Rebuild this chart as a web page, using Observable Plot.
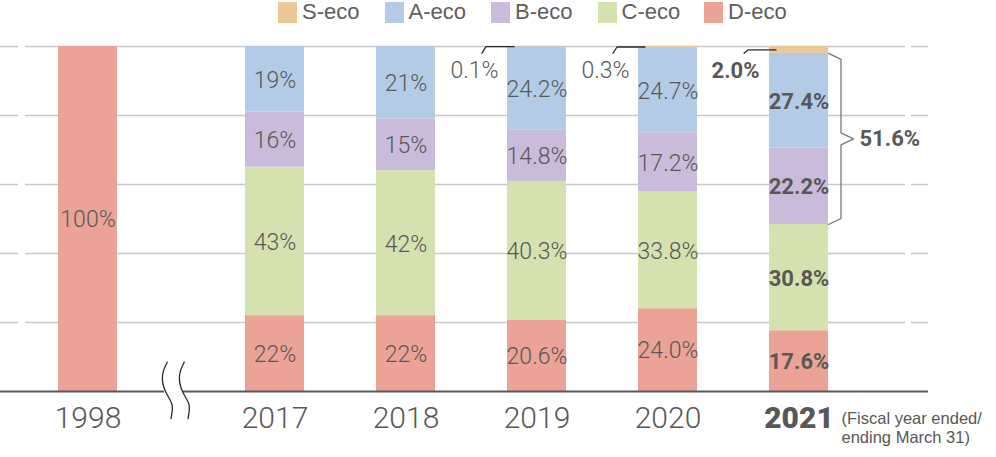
<!DOCTYPE html>
<html>
<head>
<meta charset="utf-8">
<script src="https://cdn.jsdelivr.net/npm/d3@7"></script>
<script src="https://cdn.jsdelivr.net/npm/@observablehq/plot@0.6"></script>
<style>
  body { margin: 0; background: #fff; }
  #chart { width: 996px; height: 457px; position: relative; color: #595757; }
  .legend { height: 26px; position: relative; }
  .legend .item { position: absolute; top: 1px; height: 22px; display: flex; align-items: center;
    font-family: "Liberation Sans Narrow", "Liberation Sans", sans-serif; font-size: 22px; color: #5f5d5d; }
  .legend .sw { width: 19px; height: 21px; margin-right: 5px; }
  svg { display: block; }
</style>
</head>
<body>
<div id="chart"><div class="legend" id="legend"></div></div>
<script>
// Eco-product ranking shares by fiscal year (%)
const years = ["1998", "2017", "2018", "2019", "2020", "2021"];
const categories = ["S-eco", "A-eco", "B-eco", "C-eco", "D-eco"];
const colors = ["#ecc797", "#b4cbe7", "#c9bbd9", "#d5e1ae", "#eaa396"];
const sEco = [null, null, null, 0.1, 0.3, 2.0];
const aEco = [null, 19, 21, 24.2, 24.7, 27.4];
const bEco = [null, 16, 15, 14.8, 17.2, 22.2];
const cEco = [null, 43, 42, 40.3, 33.8, 30.8];
const dEco = [100, 22, 22, 20.6, 24.0, 17.6];
const decimals = [0, 0, 0, 1, 1, 1];
const highlightYear = "2021";
const yearNote = "(Fiscal year ended/\nending March 31)";

// Layout: bars one slot apart, with a wider gap for the axis break after 1998
const SLOT = 131;                 // px per slot
const BREAK_GAP = 187 / SLOT;     // distance 1998 -> 2017, in slots
const HALF = 29.5 / SLOT;         // half bar width
const PLOT_W = 928;               // right end of the plotting frame
const PLOT_H = 345;               // px for 0..100 %
const PXY = 100 / PLOT_H;         // % per px
const pos = i => (i === 0 ? 0 : BREAK_GAP + (i - 1));

const series = {"S-eco": sEco, "A-eco": aEco, "B-eco": bEco, "C-eco": cEco, "D-eco": dEco};
const stackOrder = ["D-eco", "C-eco", "B-eco", "A-eco", "S-eco"];

const rows = [];
years.forEach((year, i) => {
  let cum = 0;
  for (const cat of stackOrder) {
    const v = series[cat][i];
    if (v == null || v <= 0) continue;
    rows.push({year, cat, v, pos: pos(i), y1: cum, y2: cum + v, dec: decimals[i]});
    cum += v;
  }
});
const fmt = d => d.v.toFixed(d.dec) + "%";
const isHi = d => d.year === highlightYear;

const inner = rows.filter(d => d.cat !== "S-eco");
const sRows = rows.filter(d => d.cat === "S-eco");

// leader lines from the small S-eco labels to the top of their bars
const leaders = sRows.flatMap(d => {
  const mid = (d.y1 + d.y2) / 2;
  return [
    {year: d.year, x: d.pos - 55 / SLOT, y: 100 - 6.7 * PXY},
    {year: d.year, x: d.pos - 51 / SLOT, y: mid},
    {year: d.year, x: d.pos - 23 / SLOT, y: mid}
  ];
});

// brace grouping S + A + B for the highlighted year
const hiIdx = years.indexOf(highlightYear);
const hiRows = rows.filter(isHi);
const cTop = hiRows.find(d => d.cat === "C-eco").y2;
const aTop = hiRows.find(d => d.cat === "A-eco").y2;
const groupShare = ["S-eco", "A-eco", "B-eco"].reduce((s, c) => s + series[c][hiIdx], 0);
const braceMid = (aTop + cTop) / 2;
const bx = pos(hiIdx);
const brace = [
  {x: bx + 29.5 / SLOT, y: aTop},
  {x: bx + 42 / SLOT, y: aTop - 6 * PXY},
  {x: bx + 42 / SLOT, y: braceMid + 6 * PXY},
  {x: bx + 54.5 / SLOT, y: braceMid},
  {x: bx + 42 / SLOT, y: braceMid - 6 * PXY},
  {x: bx + 42 / SLOT, y: cTop + 6 * PXY},
  {x: bx + 29.5 / SLOT, y: cTop}
];

// axis-break squiggles between 1998 and 2017
const breakX = (165 - 87.5) / SLOT;
const squiggle = [[1.7, -29.3], [-3, -16], [0, 0], [6.5, 13], [5.5, 27]];
const breakPts = [0, 17].flatMap(off => squiggle.map(([dx, dy]) => ({
  k: off, x: breakX + (dx + off) / SLOT, y: -dy * PXY
})));

const yearRows = years.map((year, i) => ({year, pos: pos(i)}));

const numFont = "Roboto, 'Liberation Sans', sans-serif";
const ink = "#595757";

const chart = Plot.plot({
  width: 996,
  height: 431,
  marginTop: 20,
  marginBottom: 66,
  marginLeft: 0,
  marginRight: 996 - PLOT_W,
  x: {type: "linear", domain: [-87.5 / SLOT, (PLOT_W - 87.5) / SLOT], axis: null},
  y: {domain: [0, 100], axis: null},
  color: {domain: categories, range: colors},
  style: {background: "#fff", color: ink, fontFamily: numFont, overflow: "visible"},
  marks: [
    Plot.ruleY([20, 40, 60, 80, 100], {stroke: "#c8c8c8", strokeWidth: 1.6, strokeDasharray: "18,7,880,6,17"}),
    Plot.rect(rows, {x1: d => d.pos - HALF, x2: d => d.pos + HALF, y1: "y1", y2: "y2", fill: "cat"}),
    Plot.ruleY([0], {stroke: "#5a5858", strokeWidth: 2, strokeDasharray: "164,19,745"}),
    Plot.line(breakPts, {x: "x", y: "y", z: "k", curve: "natural", stroke: "#2a2a2a", strokeWidth: 1.3}),
    // in-bar value labels
    Plot.text(inner.filter(d => !isHi(d)), {x: "pos", y: d => (d.y1 + d.y2) / 2, dy: 1, text: fmt,
      fill: ink, fontSize: 23, fontWeight: 300}),
    Plot.text(inner.filter(isHi), {x: "pos", y: d => (d.y1 + d.y2) / 2, dy: 1, text: fmt,
      fill: ink, fontSize: 22, fontWeight: "bold"}),
    // S-eco labels with leaders
    Plot.line(leaders, {x: "x", y: "y", z: "year", stroke: "#2a2a2a", strokeWidth: 1.3}),
    Plot.text(sRows.filter(d => !isHi(d)), {x: "pos", y: 100, dx: -38.5, dy: 24, textAnchor: "end",
      text: fmt, fill: ink, fontSize: 23, fontWeight: 300}),
    Plot.text(sRows.filter(isHi), {x: "pos", y: 100, dx: -39.5, dy: 24, textAnchor: "end",
      text: fmt, fill: ink, fontSize: 22, fontWeight: "bold"}),
    // brace and combined share
    Plot.line(brace, {x: "x", y: "y", stroke: "#777", strokeWidth: 1.3}),
    Plot.text([groupShare], {x: bx, y: braceMid, dx: 60.5, textAnchor: "start",
      text: d => d.toFixed(1) + "%", fill: ink, fontSize: 22, fontWeight: "bold"}),
    // year labels
    Plot.text(yearRows.filter(d => d.year !== highlightYear), {x: "pos", y: 0, dy: 27, text: "year",
      fill: ink, fontSize: 30, fontWeight: 300}),
    Plot.text(yearRows.filter(d => d.year === highlightYear), {x: "pos", y: 0, dy: 27, text: "year",
      fill: ink, fontSize: 30, fontWeight: 900}),
    Plot.text([yearNote], {x: bx, y: 0, dx: 42.5, dy: 20, textAnchor: "start", lineAnchor: "top",
      lineHeight: 1.1, text: d => d, fill: ink, fontSize: 16.5,
      fontFamily: "'Liberation Sans', sans-serif"})
  ]
});

document.getElementById("chart").appendChild(chart);

// legend above the plot
const legend = document.getElementById("legend");
categories.forEach((c, i) => {
  const item = document.createElement("div");
  item.className = "item";
  item.style.left = (278 + i * 106.5) + "px";
  const sw = document.createElement("span");
  sw.className = "sw";
  sw.style.background = colors[i];
  const label = document.createElement("span");
  label.textContent = c;
  item.append(sw, label);
  legend.appendChild(item);
});
</script>
</body>
</html>
